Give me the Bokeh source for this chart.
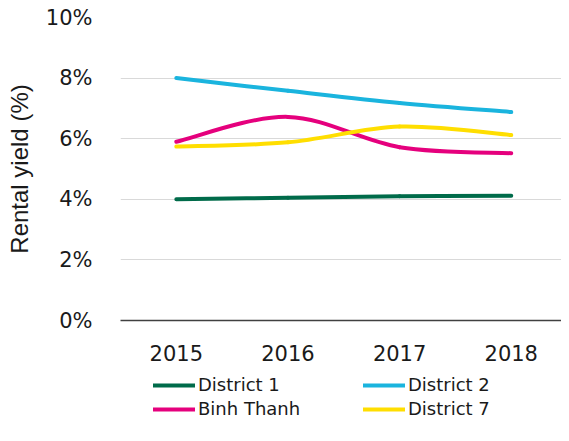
from bokeh.plotting import figure
from bokeh.layouts import column
from bokeh.models import Range1d, FixedTicker, Legend, LegendItem
from bokeh.embed import file_html
from bokeh.resources import INLINE

years = [2015, 2016, 2017, 2018]
year_labels = ["2015", "2016", "2017", "2018"]
district1 = [4.0, 4.05, 4.1, 4.12]
district2 = [8.0, 7.58, 7.18, 6.88]
binh_thanh = [5.9, 6.72, 5.72, 5.52]
district7 = [5.74, 5.88, 6.4, 6.12]
y_ticks = [0, 2, 4, 6, 8, 10]
y_labels = ["0%", "2%", "4%", "6%", "8%", "10%"]

series = [
    ("District 1", district1, "#006B4A"),
    ("District 2", district2, "#1AB4DE"),
    ("Binh Thanh", binh_thanh, "#E5007D"),
    ("District 7", district7, "#FFDE00"),
]

TICK_FONT = "DejaVu Sans"

p = figure(width=561, height=365, output_backend="svg", toolbar_location=None,
           x_range=Range1d(2014.5, 2018.45), y_range=Range1d(0, 10),
           min_border_left=120, min_border_right=0, min_border_top=17,
           min_border_bottom=45)
p.outline_line_color = None
p.background_fill_color = "white"
p.border_fill_color = "white"

p.xgrid.grid_line_color = None
p.ygrid.grid_line_color = "#d9d9d9"
p.ygrid.grid_line_width = 1
p.ygrid.ticker = FixedTicker(ticks=y_ticks)

p.yaxis.ticker = FixedTicker(ticks=y_ticks)
p.yaxis.major_label_overrides = {t: l for t, l in zip(y_ticks, y_labels)}
p.yaxis.axis_line_color = None
p.yaxis.major_tick_line_color = None
p.yaxis.minor_tick_line_color = None
p.yaxis.major_label_standoff = 22
p.yaxis.major_label_text_font = TICK_FONT
p.yaxis.major_label_text_font_size = "21px"
p.yaxis.major_label_text_color = "#1a1a1a"
p.yaxis.axis_label = "Rental yield (%)"
p.yaxis.axis_label_text_font = "Liberation Sans"
p.yaxis.axis_label_text_font_size = "24px"
p.yaxis.axis_label_text_font_style = "normal"
p.yaxis.axis_label_text_color = "#1a1a1a"
p.yaxis.axis_label_standoff = 10

p.xaxis.ticker = FixedTicker(ticks=years)
p.xaxis.major_label_overrides = {y: l for y, l in zip(years, year_labels)}
p.xaxis.axis_line_color = "#404040"
p.xaxis.axis_line_width = 1.5
p.xaxis.major_tick_line_color = None
p.xaxis.minor_tick_line_color = None
p.xaxis.major_label_standoff = 18
p.xaxis.major_label_text_font = TICK_FONT
p.xaxis.major_label_text_font_size = "21px"
p.xaxis.major_label_text_color = "#1a1a1a"


def catmull_bezier(xs, ys):
    n = len(xs)
    x0, y0, x1, y1, cx0, cy0, cx1, cy1 = [], [], [], [], [], [], [], []
    for i in range(n - 1):
        ip = max(i - 1, 0)
        inn = min(i + 2, n - 1)
        x0.append(xs[i]); y0.append(ys[i])
        x1.append(xs[i + 1]); y1.append(ys[i + 1])
        cx0.append(xs[i] + (xs[i + 1] - xs[ip]) / 6.0)
        cy0.append(ys[i] + (ys[i + 1] - ys[ip]) / 6.0)
        cx1.append(xs[i + 1] - (xs[inn] - xs[i]) / 6.0)
        cy1.append(ys[i + 1] - (ys[inn] - ys[i]) / 6.0)
    return dict(x0=x0, y0=y0, x1=x1, y1=y1, cx0=cx0, cy0=cy0, cx1=cx1, cy1=cy1)


# legend strip below the chart (its own small figure so the legend is not clipped)
p2 = figure(width=561, height=68, output_backend="svg", toolbar_location=None,
            x_axis_type=None, y_axis_type=None,
            x_range=Range1d(0, 1), y_range=Range1d(0, 1),
            min_border_left=0, min_border_right=0, min_border_top=0,
            min_border_bottom=0)
p2.outline_line_color = None
p2.xgrid.grid_line_color = None
p2.ygrid.grid_line_color = None
p2.background_fill_color = "white"
p2.border_fill_color = "white"

legend_renderers = {}
for name, vals, color in series:
    d = catmull_bezier(years, vals)
    kw = dict(x0=d["x0"], y0=d["y0"], x1=d["x1"], y1=d["y1"],
              cx0=d["cx0"], cy0=d["cy0"], cx1=d["cx1"], cy1=d["cy1"],
              line_color=color, line_width=4, line_cap="round")
    p.bezier(**kw)
    legend_renderers[name] = p2.bezier(**kw)  # outside p2's ranges: only its legend glyph shows

order = ["District 1", "Binh Thanh", "District 2", "District 7"]
legend = Legend(items=[LegendItem(label=n, renderers=[legend_renderers[n]]) for n in order],
                location=(33, 14), orientation="vertical", ncols=2,
                padding=0, margin=0, spacing=3,
                glyph_width=42, glyph_height=20, label_height=20,
                label_width=162, label_standoff=3,
                label_text_font=TICK_FONT, label_text_font_size="18px",
                label_text_color="#1a1a1a",
                background_fill_alpha=0, border_line_color=None)
p2.add_layout(legend, "center")

layout = column(p, p2, spacing=0)
open("out.html", "w").write(file_html(layout, INLINE))
